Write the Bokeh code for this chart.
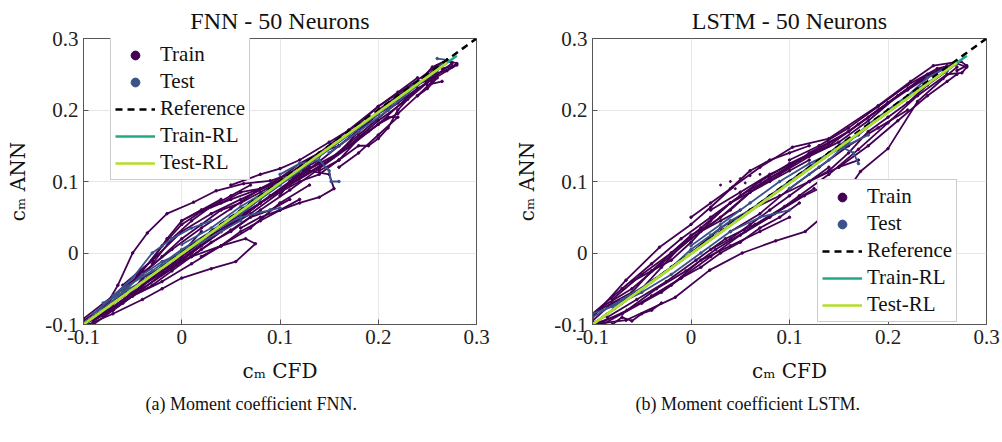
from bokeh.plotting import figure
from bokeh.models import Range1d, FixedTicker, Legend, LegendItem, Title
from bokeh.layouts import row
from bokeh.embed import file_html
from bokeh.resources import INLINE

# ---------------- data ----------------
TICKS = [-0.1, 0.0, 0.1, 0.2, 0.3]
TICK_LABELS = ["-0.1", "0", "0.1", "0.2", "0.3"]
TITLES = ["FNN - 50 Neurons", "LSTM - 50 Neurons"]
CAPTIONS = ["(a) Moment coefficient FNN.", "(b) Moment coefficient LSTM."]
X_LABEL = "c\u2098 CFD"
Y_LABEL = "c\u2098 ANN"
LEGEND_LABELS = ["Train", "Test", "Reference", "Train-RL", "Test-RL"]

REF_X = [-0.1, 0.3]
REF_Y = [-0.1, 0.3]

# regression lines: [x_start, x_end], [y_start, y_end]
FNN_TRAIN_RL_X = [-0.1, 0.28]
FNN_TRAIN_RL_Y = [-0.1, 0.276]
FNN_TEST_RL_X = [-0.1, 0.27]
FNN_TEST_RL_Y = [-0.1, 0.266]
LSTM_TRAIN_RL_X = [-0.1, 0.28]
LSTM_TRAIN_RL_Y = [-0.1, 0.276]
LSTM_TEST_RL_X = [-0.1, 0.27]
LSTM_TEST_RL_Y = [-0.1, 0.266]

FNN_TRAIN_X = [
    [-0.095, -0.08, -0.065, -0.05, -0.035, -0.015, 0.012, 0.035, 0.063, 0.09, 0.12, 0.10, 0.07, 0.04, 0.01, -0.02, -0.05, -0.08],
    [-0.09, -0.06, -0.04, -0.02, 0.0, 0.02, 0.05, 0.08, 0.11, 0.13, 0.11, 0.08, 0.05, 0.02, -0.01, -0.04, -0.07],
    [-0.095, -0.07, -0.04, -0.02, 0.0, 0.03, 0.055, 0.075, 0.065, 0.04, 0.01, -0.02, -0.05, -0.08],
    [-0.1, -0.07, -0.04, -0.01, 0.02, 0.05, 0.08, 0.11, 0.14, 0.17, 0.2, 0.23, 0.26, 0.275, 0.27, 0.26],
    [-0.09, -0.06, -0.03, 0.0, 0.03, 0.06, 0.09, 0.12, 0.15, 0.18, 0.21, 0.24, 0.27, 0.28, 0.265],
    [0.06, 0.08, 0.1, 0.12, 0.14, 0.155, 0.15, 0.13, 0.11, 0.1],
    [0.05, 0.08, 0.1, 0.12, 0.15, 0.18, 0.2, 0.22, 0.24],
    [0.1, 0.12, 0.14, 0.16, 0.18, 0.2, 0.22, 0.24, 0.255, 0.26, 0.25],
    [-0.06, -0.03, 0.0, 0.03, 0.06, 0.09, 0.12],
    [-0.05, -0.02, 0.01, 0.04, 0.07, 0.1, 0.13],
    [-0.1, -0.08, -0.06, -0.04, -0.02, 0.0, 0.02],
    [0.24, 0.26, 0.275, 0.28, 0.27, 0.255, 0.245, 0.25, 0.265],
    [0.0, 0.02, 0.04, 0.06, 0.08, 0.1, 0.12, 0.14],
    [0.1, 0.12, 0.14, 0.16, 0.18, 0.2, 0.22],
    [0.16, 0.18, 0.2, 0.22, 0.21, 0.19, 0.17],
    [-0.1, -0.08, -0.06, -0.04, -0.02, 0.0, 0.02, 0.04, 0.06, 0.08, 0.1],
    [-0.09, -0.07, -0.05, -0.03, -0.01, 0.01, 0.03, 0.05, 0.07, 0.09, 0.11],
    [-0.06, -0.045, -0.03, -0.015, 0.0, 0.02, 0.04],
    [0.12, 0.14, 0.16, 0.18, 0.2, 0.22, 0.24, 0.26],
    [0.14, 0.16, 0.18, 0.19, 0.2, 0.21, 0.22, 0.24],
    [0.2, 0.22, 0.24, 0.25, 0.26, 0.25, 0.24],
    [0.02, 0.04, 0.06, 0.08, 0.1, 0.12],
    [-0.03, -0.01, 0.01, 0.03, 0.05, 0.07],
    [-0.08, -0.06, -0.04, -0.02, 0.0, 0.02, 0.04, 0.06, 0.08],
    [0.06, 0.08, 0.1, 0.12, 0.14, 0.16, 0.18, 0.2, 0.22],
    [-0.1, -0.07, -0.04, -0.01, 0.02, 0.05, 0.08, 0.11, 0.14, 0.17, 0.2, 0.23, 0.26],
    [-0.1, -0.07, -0.04, -0.01, 0.02, 0.05, 0.08, 0.11, 0.14, 0.17, 0.2, 0.23, 0.26],
]
FNN_TRAIN_Y = [
    [-0.095, -0.08, -0.045, 0.0, 0.028, 0.055, 0.071, 0.087, 0.097, 0.101, 0.115, 0.085, 0.055, 0.03, 0.0, -0.03, -0.06, -0.088],
    [-0.09, -0.055, -0.025, 0.01, 0.04, 0.058, 0.075, 0.09, 0.108, 0.12, 0.1, 0.07, 0.045, 0.02, -0.01, -0.04, -0.07],
    [-0.1, -0.085, -0.065, -0.05, -0.035, -0.022, -0.012, 0.013, 0.02, 0.01, -0.005, -0.025, -0.05, -0.075],
    [-0.1, -0.075, -0.045, -0.02, 0.01, 0.04, 0.07, 0.095, 0.12, 0.15, 0.185, 0.215, 0.25, 0.265, 0.27, 0.262],
    [-0.095, -0.07, -0.035, -0.005, 0.025, 0.05, 0.08, 0.105, 0.13, 0.165, 0.2, 0.23, 0.255, 0.263, 0.258],
    [0.035, 0.05, 0.06, 0.07, 0.078, 0.09, 0.11, 0.115, 0.1, 0.08],
    [0.095, 0.11, 0.118, 0.13, 0.155, 0.18, 0.205, 0.225, 0.245],
    [0.085, 0.1, 0.11, 0.13, 0.16, 0.18, 0.195, 0.22, 0.24, 0.252, 0.245],
    [-0.045, -0.01, 0.03, 0.055, 0.075, 0.095, 0.11],
    [-0.06, -0.04, -0.015, 0.01, 0.035, 0.07, 0.095],
    [-0.1, -0.085, -0.07, -0.035, -0.02, 0.0, 0.03],
    [0.235, 0.25, 0.26, 0.265, 0.27, 0.26, 0.245, 0.235, 0.24],
    [0.045, 0.06, 0.07, 0.085, 0.09, 0.1, 0.115, 0.13],
    [0.105, 0.125, 0.14, 0.15, 0.17, 0.195, 0.21],
    [0.12, 0.14, 0.165, 0.19, 0.19, 0.17, 0.15],
    [-0.095, -0.075, -0.05, -0.03, -0.005, 0.02, 0.04, 0.06, 0.07, 0.085, 0.1],
    [-0.1, -0.08, -0.06, -0.045, -0.025, -0.005, 0.015, 0.03, 0.05, 0.06, 0.075],
    [-0.06, -0.03, -0.01, 0.02, 0.045, 0.06, 0.075],
    [0.11, 0.125, 0.14, 0.17, 0.195, 0.215, 0.235, 0.26],
    [0.115, 0.13, 0.15, 0.15, 0.16, 0.175, 0.2, 0.23],
    [0.2, 0.22, 0.24, 0.24, 0.245, 0.23, 0.22],
    [-0.005, 0.01, 0.03, 0.045, 0.06, 0.075],
    [-0.015, 0.02, 0.045, 0.065, 0.08, 0.095],
    [-0.085, -0.068, -0.045, -0.025, -0.008, 0.012, 0.03, 0.048, 0.07],
    [0.05, 0.07, 0.088, 0.108, 0.128, 0.15, 0.172, 0.195, 0.215],
    [-0.092, -0.06, -0.028, 0.005, 0.035, 0.062, 0.09, 0.112, 0.14, 0.172, 0.205, 0.232, 0.262],
    [-0.1, -0.08, -0.05, -0.022, 0.005, 0.032, 0.06, 0.088, 0.118, 0.148, 0.18, 0.218, 0.25],
]
FNN_TEST_X = [
    [-0.1, -0.07, -0.04, -0.01, 0.02, 0.05, 0.08, 0.11, 0.14, 0.17, 0.2, 0.23, 0.26, 0.27],
    [-0.09, -0.06, -0.03, 0.0, 0.03, 0.06, 0.09, 0.1],
    [-0.07, -0.05, -0.03, -0.01, 0.01, 0.03],
    [0.1, 0.12, 0.14, 0.15, 0.152, 0.16],
    [0.15, 0.18, 0.21, 0.24, 0.27, 0.26],
    [-0.1, -0.08, -0.06, -0.04, -0.02, 0.0, 0.02, 0.04, 0.06, 0.08, 0.1, 0.12],
    [0.0, 0.03, 0.06, 0.09, 0.12, 0.15, 0.18, 0.21, 0.24],
    [-0.08, -0.06, -0.04, -0.02, 0.0, 0.02, 0.04, 0.06],
]
FNN_TEST_Y = [
    [-0.098, -0.07, -0.04, -0.01, 0.02, 0.05, 0.08, 0.105, 0.135, 0.165, 0.195, 0.225, 0.255, 0.27],
    [-0.085, -0.05, -0.025, 0.005, 0.03, 0.05, 0.06, 0.063],
    [-0.06, -0.035, 0.0, 0.02, 0.035, 0.045],
    [0.11, 0.125, 0.13, 0.115, 0.1, 0.1],
    [0.14, 0.17, 0.2, 0.235, 0.27, 0.272],
    [-0.1, -0.078, -0.055, -0.04, -0.018, 0.003, 0.02, 0.04, 0.055, 0.075, 0.095, 0.115],
    [0.012, 0.035, 0.065, 0.09, 0.118, 0.148, 0.175, 0.205, 0.24],
    [-0.07, -0.055, -0.03, -0.012, 0.0, 0.015, 0.03, 0.045],
]

LSTM_TRAIN_X = [
    [-0.1, -0.066, -0.032, 0.0, 0.02, 0.042, 0.07, 0.103, 0.14, 0.19, 0.223, 0.246, 0.274, 0.28, 0.27],
    [-0.1, -0.066, -0.016, 0.019, 0.052, 0.086, 0.116, 0.15, 0.172, 0.2, 0.23, 0.256, 0.27],
    [-0.09, -0.06, -0.03, 0.0, 0.03, 0.06, 0.09, 0.12, 0.15, 0.18, 0.21, 0.24, 0.27],
    [-0.095, -0.065, -0.035, -0.005, 0.025, 0.055, 0.085, 0.115, 0.145],
    [-0.08, -0.05, -0.02, 0.01, 0.04, 0.07, 0.1, 0.13, 0.16, 0.19, 0.22, 0.25],
    [-0.085, -0.055, -0.025, 0.005, 0.035, 0.065, 0.095, 0.125],
    [0.0, 0.03, 0.06, 0.09, 0.12, 0.15, 0.17],
    [-0.1, -0.08, -0.06, -0.04, -0.02],
    [-0.08, -0.07, -0.06, -0.05, -0.04, -0.03],
    [0.1, 0.13, 0.16, 0.19, 0.22, 0.25, 0.27, 0.28, 0.275, 0.26],
    [0.15, 0.18, 0.21, 0.24, 0.26, 0.27],
    [0.02, 0.05, 0.08, 0.11, 0.14],
    [-0.05, -0.02, 0.01, 0.04, 0.07, 0.1],
    [0.04, 0.07, 0.1, 0.13, 0.16, 0.19, 0.22],
    [-0.1, -0.08, -0.06, -0.04, -0.02, 0.0, 0.02, 0.04, 0.06, 0.08, 0.1, 0.12, 0.14],
    [-0.09, -0.07, -0.05, -0.03, -0.01, 0.01, 0.03, 0.05, 0.07, 0.09, 0.11],
    [0.0, 0.02, 0.04, 0.06, 0.08, 0.1, 0.12],
    [0.12, 0.14, 0.16, 0.18, 0.2, 0.22, 0.24, 0.26],
    [0.14, 0.16, 0.18, 0.2, 0.22, 0.24, 0.26, 0.27],
    [-0.07, -0.05, -0.03, -0.01, 0.01, 0.03, 0.05],
    [0.02, 0.04, 0.06, 0.08, 0.1, 0.12, 0.14],
    [-0.06, -0.04, -0.02, 0.0, 0.02, 0.04, 0.06, 0.08, 0.1, 0.12],
    [-0.1, -0.07, -0.04, -0.01, 0.02, 0.05, 0.08, 0.11, 0.14, 0.17, 0.2, 0.23, 0.26],
    [-0.1, -0.07, -0.04, -0.01, 0.02, 0.05, 0.08, 0.11, 0.14, 0.17, 0.2, 0.23, 0.26],
]
LSTM_TRAIN_Y = [
    [-0.09, -0.038, 0.008, 0.04, 0.064, 0.092, 0.12, 0.148, 0.16, 0.206, 0.24, 0.262, 0.268, 0.262, 0.255],
    [-0.1, -0.094, -0.062, -0.024, 0.0, 0.017, 0.03, 0.07, 0.114, 0.146, 0.212, 0.244, 0.26],
    [-0.075, -0.05, -0.015, 0.02, 0.05, 0.085, 0.11, 0.135, 0.155, 0.185, 0.22, 0.25, 0.265],
    [-0.1, -0.08, -0.05, -0.025, 0.005, 0.03, 0.055, 0.08, 0.1],
    [-0.065, -0.03, 0.0, 0.035, 0.07, 0.1, 0.125, 0.145, 0.17, 0.2, 0.228, 0.255],
    [-0.09, -0.065, -0.04, -0.01, 0.02, 0.04, 0.065, 0.09],
    [0.0, 0.035, 0.06, 0.08, 0.1, 0.12, 0.13],
    [-0.085, -0.07, -0.06, -0.04, -0.02],
    [-0.1, -0.09, -0.095, -0.085, -0.08, -0.07],
    [0.13, 0.15, 0.175, 0.205, 0.235, 0.258, 0.265, 0.26, 0.252, 0.25],
    [0.12, 0.15, 0.185, 0.22, 0.24, 0.25],
    [0.06, 0.085, 0.11, 0.13, 0.15],
    [-0.07, -0.045, -0.01, 0.01, 0.03, 0.05],
    [0.03, 0.055, 0.09, 0.12, 0.15, 0.175, 0.2],
    [-0.095, -0.07, -0.055, -0.025, -0.01, 0.015, 0.045, 0.07, 0.085, 0.105, 0.12, 0.14, 0.155],
    [-0.1, -0.085, -0.07, -0.055, -0.035, -0.02, 0.0, 0.015, 0.035, 0.05, 0.07],
    [0.05, 0.07, 0.09, 0.115, 0.13, 0.14, 0.15],
    [0.1, 0.115, 0.14, 0.17, 0.19, 0.21, 0.235, 0.255],
    [0.155, 0.17, 0.19, 0.21, 0.23, 0.245, 0.26, 0.268],
    [-0.07, -0.05, -0.02, 0.01, 0.03, 0.045, 0.06],
    [0.005, 0.02, 0.04, 0.06, 0.08, 0.1, 0.12],
    [-0.04, -0.025, 0.0, 0.025, 0.04, 0.06, 0.085, 0.1, 0.115, 0.13],
    [-0.085, -0.05, -0.015, 0.02, 0.05, 0.08, 0.105, 0.13, 0.15, 0.18, 0.21, 0.24, 0.262],
    [-0.1, -0.085, -0.06, -0.035, -0.005, 0.025, 0.05, 0.08, 0.11, 0.145, 0.182, 0.22, 0.25],
]
LSTM_TRAIN_DOTS_X = [0.03, 0.04, 0.05, 0.06, 0.07, 0.045, 0.055]
LSTM_TRAIN_DOTS_Y = [0.095, 0.1, 0.104, 0.108, 0.11, 0.09, 0.098]
LSTM_TEST_X = [
    [-0.1, -0.07, -0.04, -0.01, 0.02, 0.05, 0.08, 0.11, 0.14, 0.17, 0.2, 0.23, 0.26, 0.27],
    [-0.08, -0.05, -0.02, 0.01, 0.04, 0.07, 0.1],
    [0.0, 0.03, 0.06, 0.09, 0.12, 0.15, 0.18],
    [0.1, 0.13, 0.15, 0.165, 0.17],
    [-0.1, -0.08, -0.06, -0.04, -0.02, 0.0, 0.02, 0.04, 0.06, 0.08, 0.1, 0.12, 0.14, 0.16],
    [0.1, 0.12, 0.14, 0.16, 0.18, 0.2, 0.22, 0.24, 0.26],
]
LSTM_TEST_Y = [
    [-0.09, -0.065, -0.04, -0.01, 0.02, 0.05, 0.08, 0.11, 0.14, 0.165, 0.2, 0.23, 0.255, 0.265],
    [-0.075, -0.055, -0.03, 0.0, 0.03, 0.05, 0.06],
    [0.01, 0.04, 0.07, 0.1, 0.125, 0.145, 0.165],
    [0.1, 0.13, 0.15, 0.14, 0.125],
    [-0.085, -0.075, -0.06, -0.04, -0.02, 0.005, 0.025, 0.045, 0.06, 0.08, 0.1, 0.12, 0.14, 0.16],
    [0.09, 0.11, 0.13, 0.155, 0.18, 0.2, 0.22, 0.245, 0.26],
]

# ---------------- style ----------------
FONT = "Liberation Serif"
LABEL_FONT = "DejaVu Serif"
C_TRAIN = "#440154"
C_TEST = "#3b528b"
C_TRAIN_RL = "#22a884"
C_TEST_RL = "#b5de2b"
TXT = "#111111"


def flat(lists):
    return [v for sub in lists for v in sub]


def make_panel(idx, train_x, train_y, test_x, test_y, trl, tsl, left_border,
               right_border, fig_w, legend_loc, caption_offset, dots=None):
    p = figure(width=fig_w, height=442, output_backend="svg", toolbar_location=None,
               x_range=Range1d(-0.1, 0.3), y_range=Range1d(-0.1, 0.3),
               min_border_left=left_border, min_border_right=right_border,
               min_border_top=38, min_border_bottom=118)
    p.title.text = TITLES[idx]
    p.title.align = "center"
    p.title.text_font = FONT
    p.title.text_font_size = "24px"
    p.title.text_font_style = "normal"
    p.title.text_color = TXT
    p.outline_line_color = "#555555"
    p.outline_line_width = 1
    for ax in (p.xaxis[0], p.yaxis[0]):
        ax.ticker = FixedTicker(ticks=TICKS)
        ax.major_label_overrides = dict(zip(TICKS, TICK_LABELS))
        ax.major_label_text_font = FONT
        ax.major_label_text_font_size = "21px"
        ax.major_label_text_color = "#222222"
        ax.axis_line_color = "#555555"
        ax.major_tick_in = 5
        ax.major_tick_out = 0
        ax.major_tick_line_color = "#555555"
        ax.minor_tick_line_color = None
        ax.major_label_standoff = 5
        ax.axis_label_text_font = LABEL_FONT
        ax.axis_label_text_font_size = "20px"
        ax.axis_label_text_font_style = "normal"
        ax.axis_label_text_color = TXT
    p.xaxis[0].axis_label = X_LABEL
    p.yaxis[0].axis_label = Y_LABEL
    p.xaxis[0].axis_label_standoff = 12
    p.yaxis[0].axis_label_standoff = 12
    p.grid.grid_line_color = "#e6e6e6"
    p.grid.grid_line_width = 1

    p.multi_line(xs=train_x, ys=train_y, line_color=C_TRAIN, line_width=1.8)
    r_train = p.scatter(x=flat(train_x), y=flat(train_y), size=2.5, color=C_TRAIN)
    if dots is not None:
        p.scatter(x=dots[0], y=dots[1], size=2, color=C_TRAIN)
    p.multi_line(xs=test_x, ys=test_y, line_color=C_TEST, line_width=1.8)
    r_test = p.scatter(x=flat(test_x), y=flat(test_y), size=2.5, color=C_TEST)
    r_ref = p.line(REF_X, REF_Y, line_color="black", line_width=2.5, line_dash="7 5")
    r_trl = p.line(trl[0], trl[1], line_color=C_TRAIN_RL, line_width=2.5)
    r_tsl = p.line(tsl[0], tsl[1], line_color=C_TEST_RL, line_width=2.5)

    legend = Legend(items=[
        LegendItem(label=LEGEND_LABELS[0], renderers=[r_train]),
        LegendItem(label=LEGEND_LABELS[1], renderers=[r_test]),
        LegendItem(label=LEGEND_LABELS[2], renderers=[r_ref]),
        LegendItem(label=LEGEND_LABELS[3], renderers=[r_trl]),
        LegendItem(label=LEGEND_LABELS[4], renderers=[r_tsl]),
    ], location=legend_loc)
    legend.label_text_font = FONT
    legend.label_text_font_size = "21px"
    legend.label_text_color = TXT
    legend.glyph_width = 40
    legend.glyph_height = 22
    legend.label_height = 22
    legend.label_standoff = 5
    legend.spacing = 2
    legend.padding = 4
    legend.margin = 0
    legend.border_line_color = "#999999"
    legend.background_fill_alpha = 1.0
    p.add_layout(legend, "center")

    cap = Title(text=CAPTIONS[idx], align="left", offset=caption_offset,
                text_font=FONT, text_font_size="18px", text_font_style="normal",
                text_color=TXT, standoff=12)
    p.add_layout(cap, "below")
    return p


p1 = make_panel(0, FNN_TRAIN_X, FNN_TRAIN_Y, FNN_TEST_X, FNN_TEST_Y,
                (FNN_TRAIN_RL_X, FNN_TRAIN_RL_Y), (FNN_TEST_RL_X, FNN_TEST_RL_Y),
                83, 24, 500, (27, 144), 62)
p2 = make_panel(1, LSTM_TRAIN_X, LSTM_TRAIN_Y, LSTM_TEST_X, LSTM_TEST_Y,
                (LSTM_TRAIN_RL_X, LSTM_TRAIN_RL_Y), (LSTM_TEST_RL_X, LSTM_TEST_RL_Y),
                92, 16, 502, (225, 2), 43, dots=(LSTM_TRAIN_DOTS_X, LSTM_TRAIN_DOTS_Y))

layout = row(p1, p2, spacing=0)
open("out.html", "w").write(file_html(layout, INLINE))
